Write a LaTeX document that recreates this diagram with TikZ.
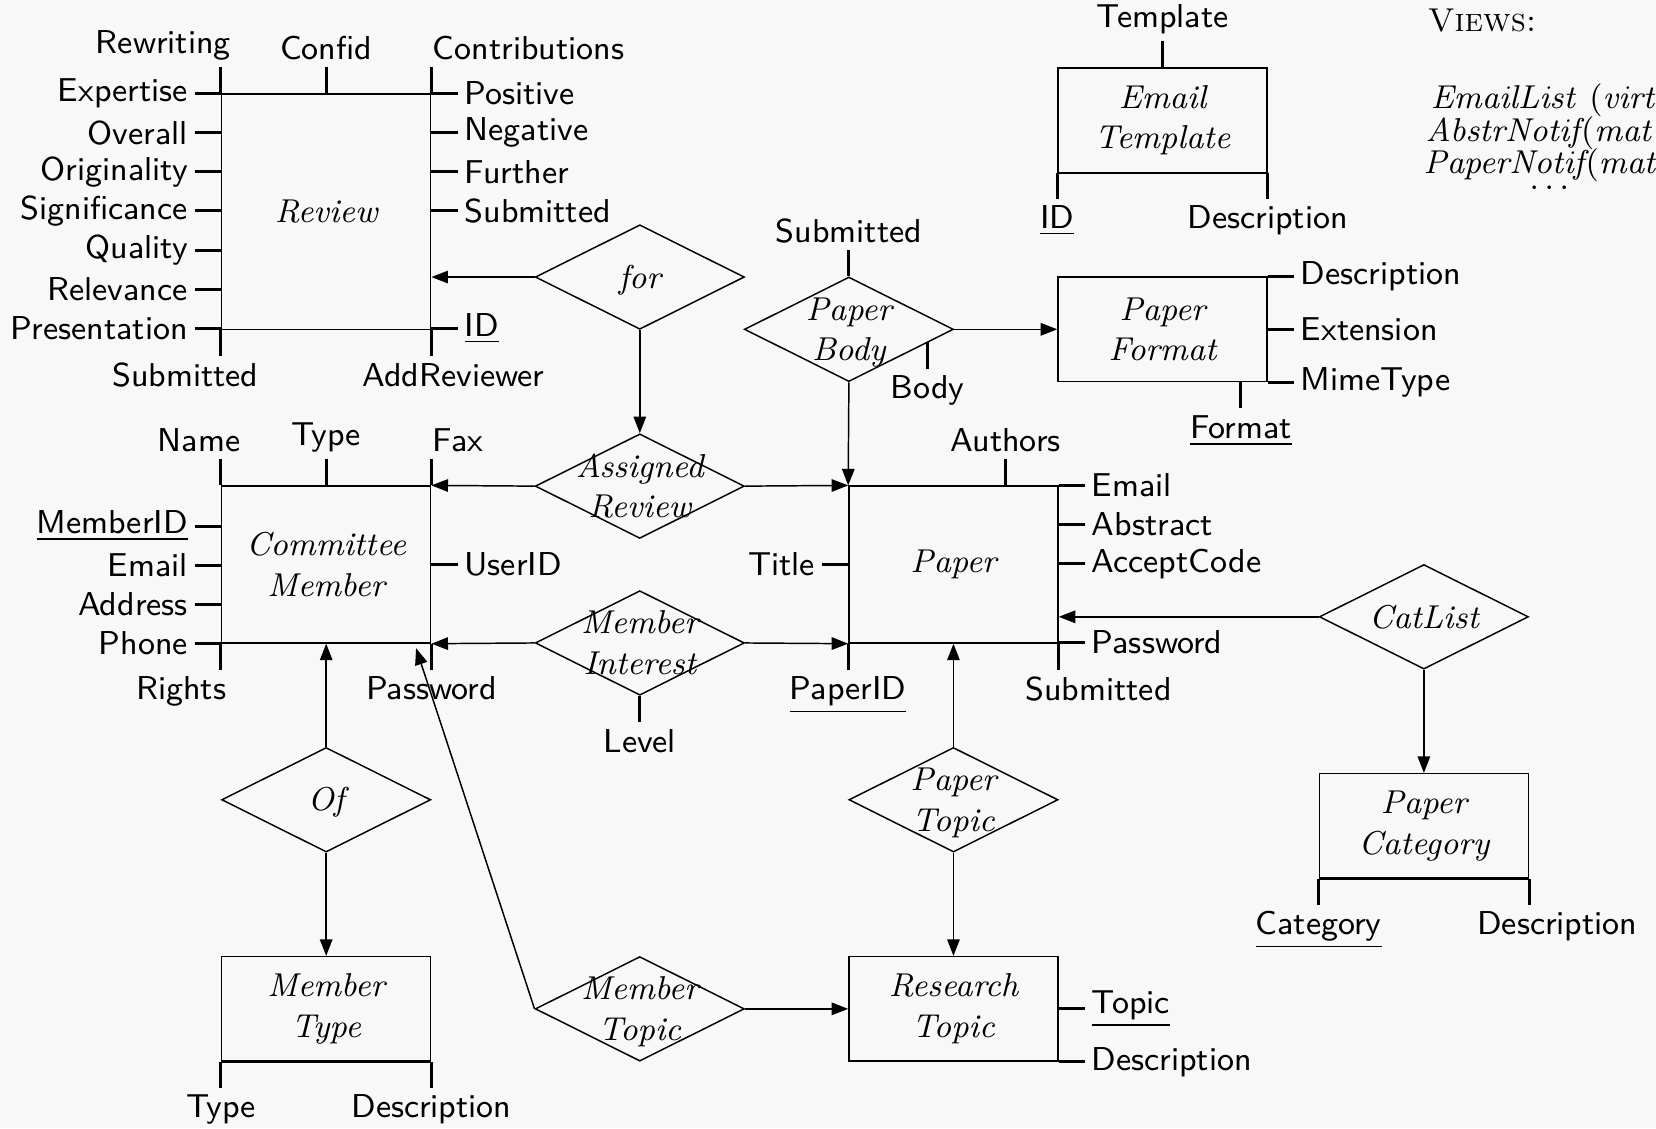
\documentclass[tikz,border=0pt]{standalone}
\usepackage{tikz}
\usetikzlibrary{arrows.meta,shapes.geometric,calc}
\definecolor{bgcol}{RGB}{248,248,248}
\newcommand{\rtext}[1]{\smash{\makebox[0pt]{\raisebox{-3.1pt}{\begin{tabular}{@{}c@{}}#1\end{tabular}}}}}

\begin{document}
\begin{tikzpicture}[font=\small\sffamily,
	ent/.style={draw, rectangle, minimum width=2cm, inner sep=0pt, align=center, font=\small\itshape},
	rel/.style={draw, diamond, minimum width=2cm, minimum height=1cm, inner sep=0pt, font=\small\itshape},
	att/.style={line width=0.8pt},
	conn/.style={-{Triangle[length=4.5pt,width=3.4pt]}},
	lbl/.style={inner sep=1.5pt}]
\fill[bgcol] (-2.12,-4.64) rectangle (13.72,6.15);
\useasboundingbox (-2.12,-4.64) rectangle (13.72,6.15);

% entities
\node[ent, minimum height=2.25cm] (rev) at (1,4.125) {Review};
\node[ent, minimum height=1.5cm] (cm) at (1,0.75) {Committee\\Member};
\node[ent, minimum height=1.5cm] (pap) at (7,0.75) {Paper};
\node[ent, minimum height=1cm] (mt) at (1,-3.5) {Member\\Type};
\node[ent, minimum height=1cm] (rt) at (7,-3.5) {Research\\Topic};
\node[ent, minimum height=1cm] (pf) at (9,3) {Paper\\Format};
\node[ent, minimum height=1cm] (et) at (9,5) {Email\\Template};
\node[ent, minimum height=1cm] (pc) at (11.5,-1.75) {Paper\\Category};

% relationships
\node[rel] (for) at (4,3.5) {\rtext{for}};
\node[rel] (ar) at (4,1.5) {\rtext{Assigned\\Review}};
\node[rel] (mi) at (4,0) {\rtext{Member\\Interest}};
\node[rel] (pb) at (6,3) {\rtext{Paper\\Body}};
\node[rel] (cl) at (11.5,0.25) {\rtext{CatList}};
\node[rel] (of) at (1,-1.5) {\rtext{Of}};
\node[rel] (pt) at (7,-1.5) {\rtext{Paper\\Topic}};
\node[rel] (mtp) at (4,-3.5) {\rtext{Member\\Topic}};
\coordinate (cmhit) at (1.86,-0.05);

\path[conn]
(for.west) edge (for.west -| rev.east)
(for.south) edge (ar.north)
(ar.west) edge (cm.north east)
(ar.east) edge (pap.north west)
(mi.west) edge (cm.south east)
(mi.east) edge (pap.south west)
(pb.south) edge (pap.north west)
(pb.east) edge (pf.west)
(cl.west) edge (cl.west -| pap.east)
(cl.south) edge (pc.north)
(of.north) edge (cm.south)
(of.south) edge (mt.north)
(pt.north) edge (pap.south)
(pt.south) edge (rt.north)
(mtp.east) edge (rt.west)
(mtp.west) edge (cmhit);

% Review attributes
\foreach \a [count=\i from 0] in {Expertise,Overall,Originality,Significance,Quality,Relevance,Presentation}
	\draw[att] ($(rev.north west)+(0,-0.375*\i)$) -- ++(-0.25,0) node[left,lbl] (rev-l\i) {\a};
\foreach \i/\a in {0/Positive,1/Negative,2/Further,3/Submitted,6/\underline{ID}}
	\draw[att] ($(rev.north east)+(0,-0.375*\i)$) -- ++(0.25,0) node[right,lbl] (rev-r\i) {\a};
\draw[att] (rev.north west) -- ++(0,0.25) node[above,lbl,xshift=-0.55cm] (rev-rw) {Rewriting};
\draw[att] (rev.north) -- ++(0,0.25) node[above,lbl] (rev-cf) {Confid};
\draw[att] (rev.north east) -- ++(0,0.25) node[anchor=south west,lbl,inner xsep=0pt] (rev-ct) {Contributions};
\draw[att] (rev.south west) -- ++(0,-0.25) node[below,lbl,xshift=-0.34cm] (rev-sb) {Submitted};
\draw[att] (rev.south east) -- ++(0,-0.25) node[below,lbl,xshift=0.21cm] (rev-ad) {AddReviewer};

% Committee Member attributes
\foreach \a [count=\i from 0] in {\underline{MemberID},Email,Address,Phone}
	\draw[att] ($(cm.south west)+(0,1.125-0.375*\i)$) -- ++(-0.25,0) node[left,lbl] (cm-l\i) {\a};
\draw[att] (cm.east) -- ++(0.25,0) node[right,lbl] (cm-uid) {UserID};
\draw[att] (cm.north west) -- ++(0,0.25) node[above,lbl,xshift=-0.21cm] (cm-nm) {Name};
\draw[att] (cm.north) -- ++(0,0.25) node[above,lbl] (cm-ty) {Type};
\draw[att] (cm.north east) -- ++(0,0.25) node[anchor=south west,lbl,inner xsep=0pt] (cm-fx) {Fax};
\draw[att] (cm.south west) -- ++(0,-0.25) node[below,lbl,xshift=-0.38cm] (cm-rg) {Rights};
\draw[att] (cm.south east) -- ++(0,-0.25) node[below,lbl] (cm-pw) {Password};

% Paper attributes
\draw[att] (pap.west) -- ++(-0.25,0) node[left,lbl] (pap-ti) {Title};
\foreach \i/\a in {0/Email,1/Abstract,2/AcceptCode,4/Password}
	\draw[att] ($(pap.north east)+(0,-0.375*\i)$) -- ++(0.25,0) node[right,lbl] (pap-r\i) {\a};
\draw[att] ($(pap.north)+(0.5,0)$) -- ++(0,0.25) node[above,lbl] (pap-au) {Authors};
\draw[att] (pap.south west) -- ++(0,-0.25) node[below,lbl] (pap-id) {\underline{PaperID}};
\draw[att] (pap.south east) -- ++(0,-0.25) node[below,lbl,xshift=0.38cm] (pap-sb) {Submitted};

% Paper Body, Member Interest
\draw[att] (pb.north) -- ++(0,0.25) node[above,lbl] (pb-sb) {Submitted};
\draw[att] ($(pb.center)+(0.75,-0.125)$) -- ++(0,-0.25) node[below,lbl] (pb-bd) {Body};
\draw[att] (mi.south) -- ++(0,-0.25) node[below,lbl] (mi-lv) {Level};

% Paper Format
\draw[att] (pf.north east) -- ++(0.25,0) node[right,lbl] (pf-ds) {Description};
\draw[att] (pf.east) -- ++(0.25,0) node[right,lbl] (pf-ex) {Extension};
\draw[att] (pf.south east) -- ++(0.25,0) node[right,lbl] (pf-mt) {MimeType};
\draw[att] ($(pf.south)+(0.75,0)$) -- ++(0,-0.25) node[below,lbl] (pf-fm) {\underline{Format}};

% Email Template
\draw[att] (et.north) -- ++(0,0.25) node[above,lbl] (et-tp) {Template};
\node[below,lbl] (et-id) at ($(et.south west)+(0,-0.25)$) {\underline{ID}};
\node[below,lbl] (et-ds) at ($(et.south east)+(0,-0.25)$) {Description};
\draw[att] (et-id.north) -- (et.south west) (et.south east) -- (et-ds.north);
\draw[line width=0.55pt] (et.south west) -- (et.south east);

% Paper Category
\node[below,lbl] (pc-ct) at ($(pc.south west)+(0,-0.25)$) {\underline{Category}};
\node[below,lbl,xshift=0.27cm] (pc-ds) at ($(pc.south east)+(0,-0.25)$) {Description};
\draw[att] (pc-ct.north) -- (pc.south west) (pc.south east) -- ++(0,-0.25);
\draw[line width=0.55pt] (pc.south west) -- (pc.south east);

% Member Type
\node[below,lbl] (mt-ty) at ($(mt.south west)+(0,-0.25)$) {Type};
\node[below,lbl] (mt-ds) at ($(mt.south east)+(0,-0.25)$) {Description};
\draw[att] (mt-ty.north) -- (mt.south west) (mt.south east) -- (mt-ds.north);
\draw[line width=0.55pt] (mt.south west) -- (mt.south east);

% Research Topic
\draw[att] (rt.east) -- ++(0.25,0) node[right,lbl] (rt-tp) {\underline{Topic}};
\draw[att] (rt.south east) -- ++(0.25,0) node[right,lbl] (rt-ds) {Description};

% views
\node[anchor=west, inner sep=0pt, font=\small\rmfamily] (views) at (11.53,5.95) {\textsc{Views:}};
\node[anchor=west, inner sep=0pt, font=\small] (v1) at (11.56,5.19) {$\mathit{EmailList}\ (\mathit{virt}$};
\node[anchor=west, inner sep=0pt, font=\small] (v2) at (11.51,4.88) {$\mathit{AbstrNotif}\!(\mathit{mat}$};
\node[anchor=west, inner sep=0pt, font=\small] (v3) at (11.49,4.57) {$\mathit{PaperNotif}\!(\mathit{mat}$};
\node[inner sep=0pt, font=\small] (v4) at (12.7,4.35) {$\dots$};
\end{tikzpicture}
\end{document}
